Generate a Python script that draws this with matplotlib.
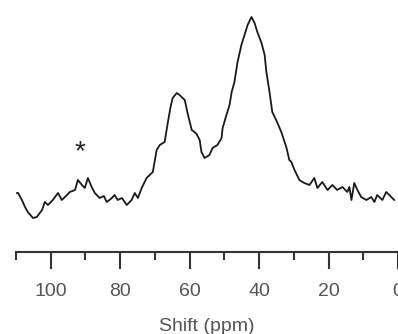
import numpy as np
import matplotlib
matplotlib.use('Agg')
import matplotlib.pyplot as plt

# 13C spectrum (shift in ppm, intensity in arbitrary units)
shift = [109.7, 109.4, 108.3, 107.4, 106.6, 105.1, 104.0, 102.5, 101.7, 100.8,
         99.4, 97.9, 96.8, 95.9, 94.5, 93.0, 92.2, 91.0, 90.2, 89.3,
         88.2, 87.3, 85.9, 84.7, 83.9, 82.7, 81.6, 80.7, 79.5, 78.1,
         76.7, 75.8, 74.9, 73.8, 72.4, 71.5, 70.6, 70.1, 69.5, 68.6,
         67.2, 66.3, 65.5, 64.9, 63.7, 62.9, 61.4, 60.6, 59.4, 58.6,
         58.0, 57.1, 56.6, 55.7, 54.3, 53.4, 52.0, 50.8, 50.5, 49.4,
         48.5, 47.9, 47.1, 46.2, 45.1, 44.2, 43.3, 42.2, 41.3, 40.5,
         39.3, 38.4, 37.9, 37.0, 36.2, 34.7, 33.6, 32.1, 31.3, 30.7,
         29.8, 28.4, 27.0, 25.5, 24.1, 23.2, 21.8, 20.3, 18.9, 17.5,
         16.0, 14.6, 14.0, 13.4, 12.6, 11.7, 10.6, 9.1, 7.7, 6.8,
         6.0, 4.5, 3.4, 2.5, 1.1]
intensity = [59, 59, 52, 45, 40, 34, 35, 42, 50, 47,
             52, 59, 52, 55, 60, 62, 72, 67, 64, 74,
             65, 59, 54, 56, 50, 53, 57, 52, 54, 47,
             52, 59, 54, 64, 74, 77, 80, 90, 102, 107,
             110, 129, 145, 154, 159, 157, 152, 139, 122, 120,
             118, 112, 100, 94, 97, 104, 107, 114, 124, 137,
             147, 160, 170, 190, 207, 217, 227, 235, 229, 220,
             209, 197, 180, 160, 140, 129, 120, 104, 92, 90,
             82, 72, 69, 67, 74, 64, 70, 62, 67, 62,
             65, 60, 65, 52, 69, 62, 55, 52, 55, 50,
             57, 52, 60, 57, 52]

major_ticks = [100, 80, 60, 40, 20, 0]
minor_ticks = [110, 90, 70, 50, 30, 10]

plt.rcParams['font.family'] = ['Liberation Sans', 'DejaVu Sans']

fig = plt.figure(figsize=(3.98, 3.34), dpi=100)
ax = fig.add_axes([16/398, 82/334, 382/398, 252/334])

ax.plot(shift, intensity, color='#1a1a1a', lw=1.3)
ax.text(91.6, 100, '*', fontsize=20, color='#222222', ha='center', va='center')

ax.set_xlim(110, 0)
ax.set_ylim(0, 252)
for s in ['top', 'left', 'right']:
    ax.spines[s].set_visible(False)
ax.spines['bottom'].set_color('#333333')
ax.spines['bottom'].set_linewidth(1.5)
ax.set_yticks([])
ax.set_xticks(major_ticks)
ax.set_xticks(minor_ticks, minor=True)
ax.tick_params(axis='x', which='major', length=12.5, width=1.5, color='#333333',
               labelsize=14, labelcolor='#555555', pad=10)
ax.tick_params(axis='x', which='minor', length=6, width=1.5, color='#333333')
ax.set_xlabel('Shift (ppm)', fontsize=14, color='#555555', labelpad=13)

fig.savefig('out.png', dpi=100)
